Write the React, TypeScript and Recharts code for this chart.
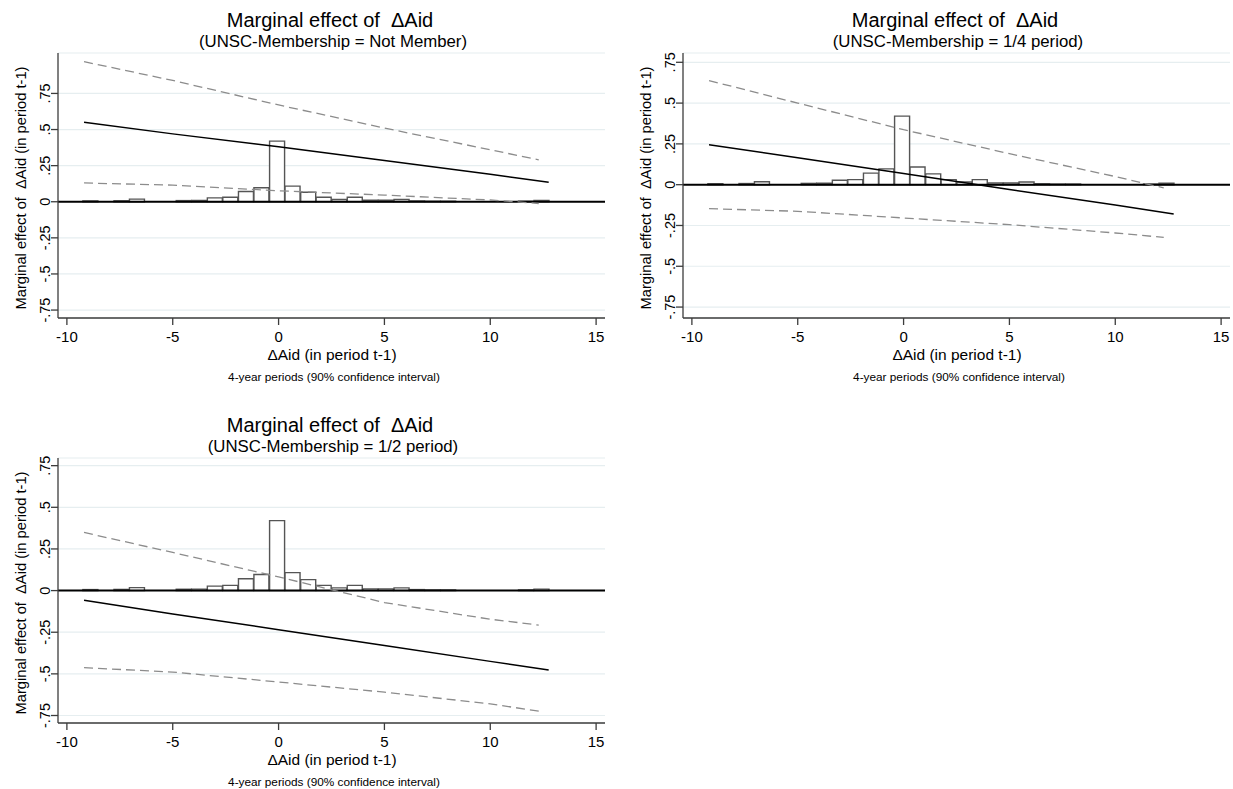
import React from 'react';
import {
  ComposedChart,
  Bar,
  Line,
  XAxis,
  YAxis,
  CartesianGrid,
  ReferenceLine,
} from 'recharts';

const FONT = '"Liberation Sans", Arial, Helvetica, sans-serif';
const AXIS = '#3c3c3c';

// histogram of ΔAid (share of observations per bin) - same in all three panels
const binCenters = [
  -8.88, -8.15, -7.41, -6.68, -5.94, -5.21, -4.47, -3.74, -3.0, -2.27,
  -1.53, -0.8, -0.06, 0.67, 1.41, 2.14, 2.88, 3.61, 4.35, 5.08,
  5.82, 6.55, 7.29, 8.02, 8.76, 9.49, 10.23, 10.96, 11.7, 12.43,
];
const binShares = [
  0.006, 0, 0.007, 0.018, 0, 0, 0.008, 0.009, 0.027, 0.031,
  0.071, 0.097, 0.42, 0.108, 0.066, 0.031, 0.016, 0.031, 0.01, 0.01,
  0.016, 0.006, 0.004, 0.004, 0, 0, 0, 0, 0.004, 0.009,
];

// points where the marginal effect and its 90% CI are read
const effectX = [-9.19, -5, 0, 5, 10, 12.76];
const ciX = [-9.19, -5, 0, 5, 10, 12.29];

const notMemberEffect = [0.55, 0.47, 0.38, 0.285, 0.19, 0.135];
const notMemberUpper = [0.97, 0.84, 0.67, 0.51, 0.36, 0.29];
const notMemberLower = [0.13, 0.115, 0.076, 0.046, 0.012, -0.012];

const quarterEffect = [0.245, 0.165, 0.068, -0.03, -0.125, -0.18];
const quarterUpper = [0.638, 0.5, 0.337, 0.19, 0.05, -0.02];
const quarterLower = [-0.147, -0.163, -0.204, -0.245, -0.296, -0.323];

const halfEffect = [-0.058, -0.14, -0.235, -0.33, -0.425, -0.477];
const halfUpper = [0.349, 0.229, 0.082, -0.072, -0.172, -0.207];
const halfLower = [-0.463, -0.489, -0.549, -0.61, -0.68, -0.724];

const xTicks = [-10, -5, 0, 5, 10, 15];
const yTicks = [-0.75, -0.5, -0.25, 0, 0.25, 0.5, 0.75];
const X_DOMAIN: [number, number] = [-10.42, 15.42];

const histData = binCenters.map((x, i) => ({ x, share: binShares[i] }));

const fmtY = (v: number) =>
  v === 0 ? '0' : (v < 0 ? '-' : '') + String(Math.abs(v)).replace(/^0/, '');

const RotatedTick = (props: any) => {
  const { x, y, payload } = props;
  return (
    <text
      x={x}
      y={y}
      transform={`rotate(-90 ${x} ${y})`}
      textAnchor="middle"
      fontSize={14.5}
      fontFamily={FONT}
      fill="#000"
    >
      {fmtY(payload.value)}
    </text>
  );
};

type PanelProps = {
  left: number;
  top: number;
  subtitle: string;
  effect: number[];
  upper: number[];
  lower: number[];
  yDomain: [number, number];
};

const Panel = ({ left, top, subtitle, effect, upper, lower, yDomain }: PanelProps) => {
  const effectData = effectX.map((x, i) => ({ x, y: effect[i] }));
  const upperData = ciX.map((x, i) => ({ x, y: upper[i] }));
  const lowerData = ciX.map((x, i) => ({ x, y: lower[i] }));

  return (
    <div style={{ position: 'absolute', left, top, width: 620, height: 400 }}>
      <ComposedChart
        width={620}
        height={400}
        data={histData}
        margin={{ top: 53, right: 15, bottom: 0, left: 0 }}
        barCategoryGap={0}
      >
        <CartesianGrid vertical={false} stroke="#e6eef0" strokeWidth={1.2} />
        <XAxis
          dataKey="x"
          type="number"
          domain={X_DOMAIN}
          ticks={xTicks}
          interval={0}
          allowDataOverflow
          height={82}
          tickSize={7}
          tickMargin={6}
          axisLine={{ stroke: AXIS, strokeWidth: 1.3 }}
          tickLine={{ stroke: AXIS, strokeWidth: 1.3 }}
          tick={{ fill: '#000', fontSize: 15, fontFamily: FONT }}
        />
        <XAxis xAxisId="hist" dataKey="x" type="number" domain={X_DOMAIN} allowDataOverflow hide />
        <YAxis
          type="number"
          domain={yDomain}
          ticks={yTicks}
          interval={0}
          allowDataOverflow
          width={58}
          tickSize={7}
          tickMargin={1}
          axisLine={{ stroke: AXIS, strokeWidth: 1.3 }}
          tickLine={{ stroke: AXIS, strokeWidth: 1.3 }}
          tick={<RotatedTick />}
        />
        <Bar
          xAxisId="hist"
          dataKey="share"
          fill="#fff"
          stroke="#555"
          strokeWidth={1.4}
          isAnimationActive={false}
        />
        <ReferenceLine y={0} stroke="#000" strokeWidth={2} />
        <Line
          data={upperData}
          dataKey="y"
          stroke="#8c8c8c"
          strokeWidth={1.3}
          strokeDasharray="9 5"
          dot={false}
          activeDot={false}
          isAnimationActive={false}
        />
        <Line
          data={lowerData}
          dataKey="y"
          stroke="#8c8c8c"
          strokeWidth={1.3}
          strokeDasharray="9 5"
          dot={false}
          activeDot={false}
          isAnimationActive={false}
        />
        <Line
          data={effectData}
          dataKey="y"
          stroke="#000"
          strokeWidth={1.5}
          dot={false}
          activeDot={false}
          isAnimationActive={false}
        />
      </ComposedChart>
      <svg
        width={620}
        height={400}
        style={{ position: 'absolute', left: 0, top: 0, pointerEvents: 'none' }}
        fontFamily={FONT}
      >
        <text x={330} y={26.5} textAnchor="middle" fontSize={20} style={{ whiteSpace: 'pre' }}>
          {'Marginal effect of  ΔAid'}
        </text>
        <text x={333} y={46.5} textAnchor="middle" fontSize={16.8}>
          {subtitle}
        </text>
        <text
          x={26}
          y={188}
          transform="rotate(-90 26 188)"
          textAnchor="middle"
          fontSize={14.7}
          style={{ whiteSpace: 'pre' }}
        >
          {'Marginal effect of  ΔAid (in period t-1)'}
        </text>
        <text x={332} y={359.5} textAnchor="middle" fontSize={15.5}>
          ΔAid (in period t-1)
        </text>
        <text x={334} y={381} textAnchor="middle" fontSize={11.8}>
          4-year periods (90% confidence interval)
        </text>
      </svg>
    </div>
  );
};

export default function App() {
  return (
    <div style={{ position: 'absolute', left: 0, top: 0, width: 1233, height: 789, background: '#fff' }}>
      <Panel
        left={0}
        top={0}
        subtitle="(UNSC-Membership = Not Member)"
        effect={notMemberEffect}
        upper={notMemberUpper}
        lower={notMemberLower}
        yDomain={[-0.805, 1.03]}
      />
      <Panel
        left={625}
        top={0}
        subtitle="(UNSC-Membership = 1/4 period)"
        effect={quarterEffect}
        upper={quarterUpper}
        lower={quarterLower}
        yDomain={[-0.817, 0.807]}
      />
      <Panel
        left={0}
        top={405}
        subtitle="(UNSC-Membership = 1/2 period)"
        effect={halfEffect}
        upper={halfUpper}
        lower={halfLower}
        yDomain={[-0.795, 0.796]}
      />
    </div>
  );
}
